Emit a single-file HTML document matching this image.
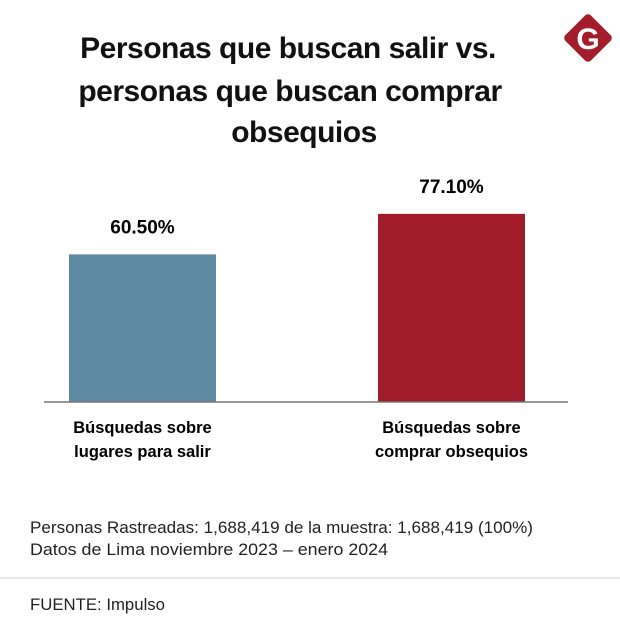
<!DOCTYPE html>
<html><head><meta charset="utf-8"><style>
body{margin:0;background:#fff;}
#c{position:relative;width:620px;height:638px;overflow:hidden;font-family:"Liberation Sans",sans-serif;color:#111;}
</style></head><body>
<div id="c">
<svg width="620" height="638">
<g font-weight="bold" font-size="30" text-anchor="middle" fill="#111" letter-spacing="-0.5">
<text x="288" y="58">Personas que buscan salir vs.</text>
<text x="290" y="101">personas que buscan comprar</text>
<text x="304" y="142">obsequios</text>
</g>
<g>
<rect x="570" y="20" width="36" height="36" rx="4" fill="#a31d2b" transform="rotate(45 588 38)"/>
<text x="588" y="49" text-anchor="middle" font-weight="bold" font-size="30" fill="#fff">G</text>
</g>
<g id="bars"></g>
<line x1="44" y1="402" x2="568" y2="402" stroke="#777" stroke-width="1.5"/>
<g font-size="17" fill="#222">
<text x="30" y="533" textLength="503" lengthAdjust="spacingAndGlyphs">Personas Rastreadas: 1,688,419 de la muestra: 1,688,419 (100%)</text>
<text x="30" y="555" textLength="358" lengthAdjust="spacingAndGlyphs">Datos de Lima noviembre 2023 – enero 2024</text>
<line x1="0" y1="578" x2="620" y2="578" stroke="#ddd" stroke-width="1.5"/>
<text x="30" y="610" textLength="135" lengthAdjust="spacingAndGlyphs">FUENTE: Impulso</text>
</g>
</svg>
</div>
<script>
const categories=[["Búsquedas sobre","lugares para salir"],["Búsquedas sobre","comprar obsequios"]];
const values=[60.5,77.1];
const valueLabels=["60.50%","77.10%"];
const colors=["#5e8aa3","#a01c2a"];
const base=402, scale=2.44, barW=147, centers=[142.5,451.5];
const yPos=v=>base-v*scale;
const g=document.getElementById('bars');
const ns="http://www.w3.org/2000/svg";
values.forEach((v,i)=>{
 const r=document.createElementNS(ns,'rect');
 
 
 r.setAttribute('x',centers[i]-barW/2);r.setAttribute('y',yPos(v));
 r.setAttribute('width',barW);r.setAttribute('height',base-yPos(v));r.setAttribute('fill',colors[i]);
 g.appendChild(r);
 const t=document.createElementNS(ns,'text');
 
 
 t.setAttribute('x',centers[i]);t.setAttribute('y',yPos(v)-21);
 t.setAttribute('text-anchor','middle');t.setAttribute('font-weight','bold');t.setAttribute('font-size','19');
 t.textContent=valueLabels[i];g.appendChild(t);
 categories[i].forEach((line,j)=>{
  const c=document.createElementNS(ns,'text');
  
  
  c.setAttribute('x',centers[i]);c.setAttribute('y',433+j*24);
  c.setAttribute('text-anchor','middle');c.setAttribute('font-weight','bold');c.setAttribute('font-size','16.5');
  c.textContent=line;g.appendChild(c);
 });
});
</script>
</body></html>
